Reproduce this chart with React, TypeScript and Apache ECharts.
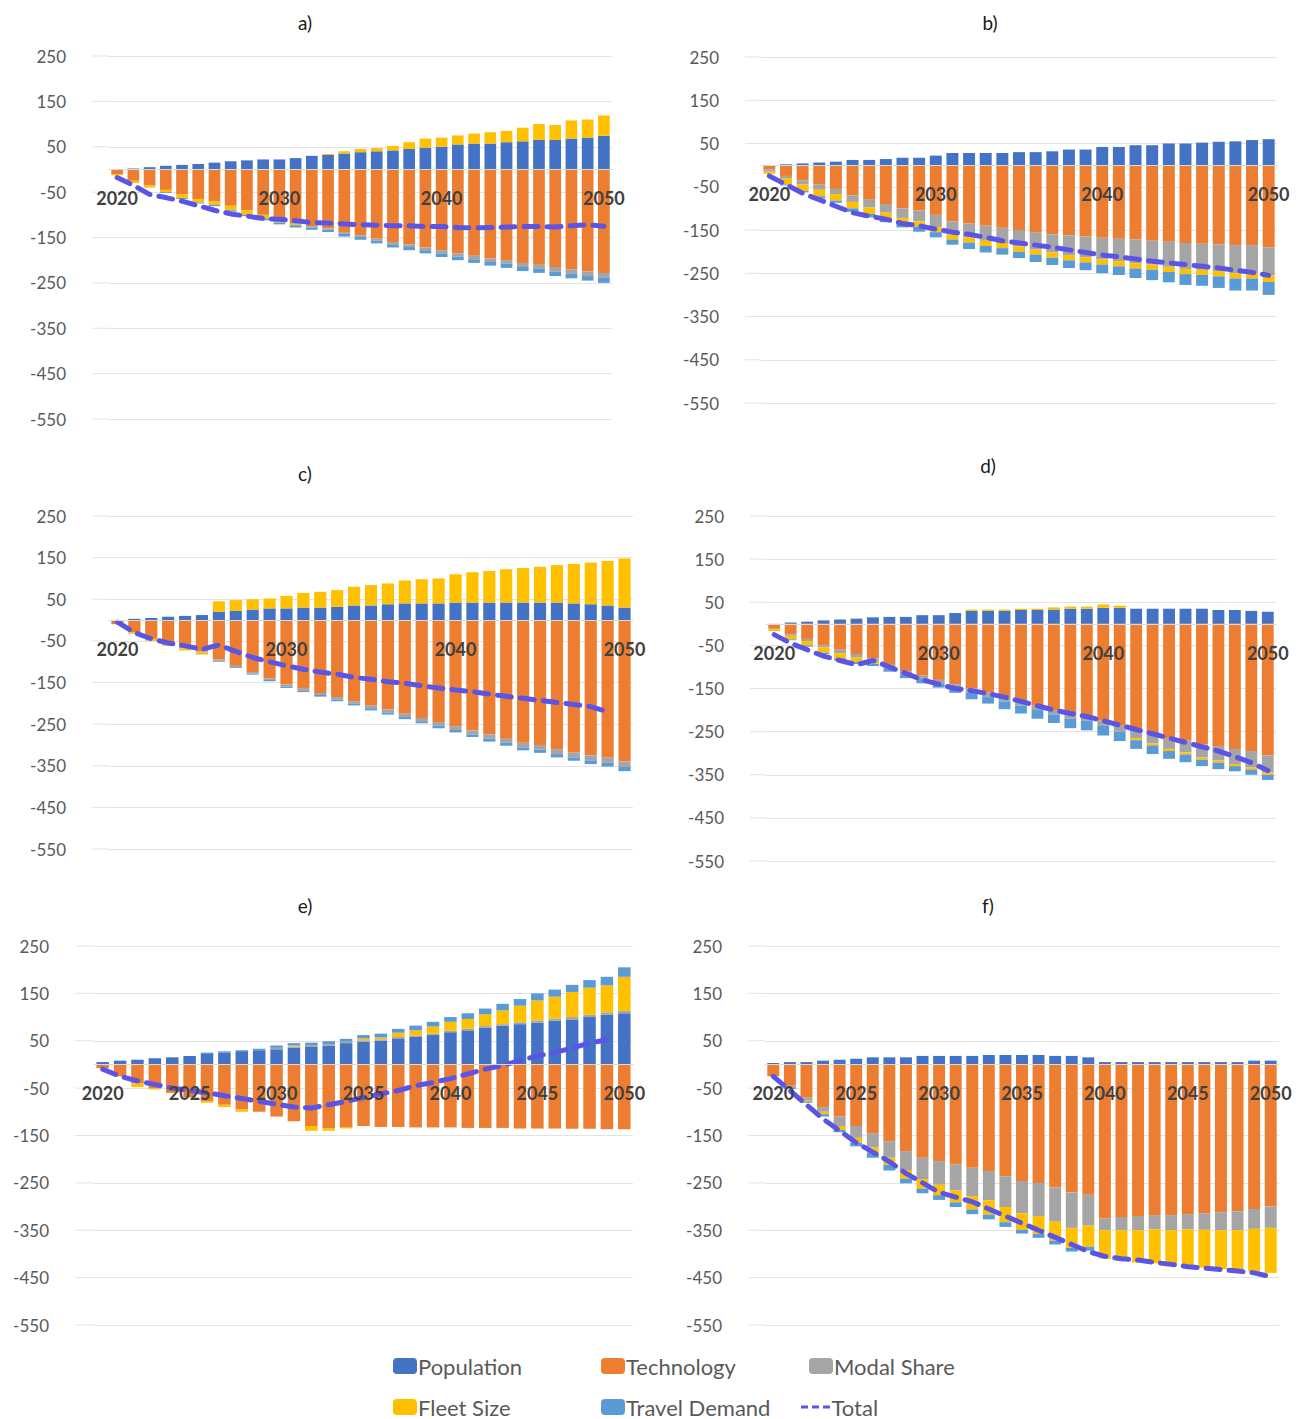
import React, { useEffect, useRef } from "react";
import * as echarts from "echarts";

const years = Array.from({ length: 31 }, (_, i) => String(2020 + i));
const yTicks = [-550, 250, 100]; // min, max, interval

const popA = [0,2,5,8,10,12,15,18,20,22,22,25,30,32,35,38,40,42,45,48,50,55,57,57,60,62,65,65,68,70,74];
const techA = [-10,-25,-35,-45,-55,-65,-70,-80,-90,-100,-110,-118,-125,-130,-138,-145,-152,-160,-165,-172,-178,-185,-190,-196,-200,-206,-210,-215,-220,-225,-228];
const modalA = [0,0,0,0,0,0,0,0,0,0,-2,-2,-3,-3,-4,-4,-5,-5,-6,-6,-7,-7,-8,-8,-8,-9,-9,-10,-10,-10,-10];
const fleetA = [-3,-5,-5,-5,-8,-8,-8,-10,-10,-8,-5,-3,0,2,5,7,7,10,15,20,20,20,22,25,25,30,35,33,40,40,45];
const travelA = [0,0,0,-2,-2,-2,-3,-3,-3,-4,-4,-5,-5,-5,-6,-6,-6,-7,-7,-7,-8,-8,-8,-8,-9,-9,-9,-10,-10,-10,-12];
const totalA = [-18,-35,-55,-62,-70,-80,-90,-98,-103,-108,-110,-113,-117,-118,-120,-122,-123,-124,-124,-126,-126,-128,-129,-128,-127,-126,-126,-127,-124,-122,-125];

const popB = [0,2,4,6,8,12,12,14,17,17,22,28,28,28,28,30,30,32,36,36,42,42,46,46,50,50,52,54,55,58,60];
const techB = [-10,-25,-35,-45,-55,-70,-80,-90,-100,-105,-115,-130,-135,-140,-145,-150,-155,-160,-163,-165,-168,-170,-172,-175,-177,-180,-182,-183,-185,-185,-190];
const modalB = [-5,-5,-10,-12,-12,-15,-18,-20,-22,-25,-28,-30,-32,-35,-35,-38,-40,-42,-45,-48,-50,-52,-55,-55,-58,-60,-60,-62,-65,-65,-65];
const fleetB = [-5,-15,-15,-15,-15,-15,-15,-12,-12,-12,-12,-12,-12,-12,-12,-12,-12,-12,-12,-12,-12,-12,-12,-12,-12,-12,-12,-12,-12,-12,-15];
const travelB = [0,-2,-3,-5,-5,-8,-8,-10,-10,-12,-12,-12,-15,-15,-15,-15,-17,-17,-18,-18,-20,-20,-22,-24,-24,-25,-25,-27,-28,-28,-30];
const totalB = [-25,-45,-65,-80,-95,-110,-118,-125,-135,-140,-148,-155,-160,-167,-175,-180,-185,-190,-196,-202,-208,-212,-217,-222,-226,-230,-234,-238,-243,-248,-255];

const popC = [0,3,5,8,10,12,20,22,25,28,28,30,30,32,35,35,38,40,40,40,42,42,42,42,42,42,42,40,38,35,30];
const techC = [-10,-30,-45,-55,-65,-75,-95,-110,-125,-140,-155,-165,-175,-185,-195,-205,-215,-225,-235,-245,-255,-265,-275,-285,-295,-300,-310,-318,-325,-330,-340];
const modalC = [0,0,0,-2,-3,-3,-3,-3,-4,-4,-5,-5,-5,-6,-6,-7,-7,-8,-8,-9,-9,-10,-10,-10,-11,-11,-12,-12,-12,-13,-13];
const fleetC = [0,-3,-5,-5,-5,-5,25,26,25,24,30,35,38,40,45,49,50,55,58,60,68,73,76,80,83,86,90,95,100,107,118];
const travelC = [0,0,0,0,0,0,-2,-2,-2,-3,-3,-3,-4,-4,-4,-5,-5,-5,-5,-6,-6,-6,-7,-7,-7,-8,-8,-8,-9,-9,-10];
const totalC = [-5,-30,-45,-55,-62,-70,-60,-75,-90,-100,-110,-118,-125,-130,-138,-142,-148,-152,-158,-163,-168,-172,-178,-183,-188,-193,-198,-203,-208,-220,null];

const popD = [0,3,5,8,10,12,15,16,16,20,20,25,30,30,30,32,32,33,35,35,37,37,35,35,35,35,35,32,32,30,28];
const techD = [-10,-25,-35,-50,-60,-70,-80,-95,-110,-120,-130,-140,-150,-160,-170,-180,-190,-200,-210,-215,-225,-235,-245,-255,-265,-270,-280,-285,-290,-295,-305];
const modalD = [-2,-3,-5,-5,-8,-8,-8,-8,-8,-8,-8,-8,-10,-10,-10,-10,-10,-10,-10,-10,-12,-15,-20,-22,-25,-28,-30,-32,-35,-38,-40];
const fleetD = [-5,-8,-10,-12,-12,-10,-5,0,0,0,0,0,3,3,3,3,3,5,5,5,8,5,-5,-5,-5,-5,-5,-5,-5,-5,-5];
const travelD = [0,-2,-3,-3,-5,-5,-5,-8,-8,-10,-10,-12,-15,-15,-18,-18,-20,-20,-22,-22,-22,-22,-20,-20,-18,-18,-15,-15,-12,-12,-12];
const totalD = [-25,-45,-60,-75,-85,-95,-85,-100,-115,-130,-140,-150,-155,-162,-170,-180,-190,-200,-208,-215,-225,-235,-245,-255,-265,-275,-285,-295,-308,-322,-340];

const popE = [5,8,10,13,15,18,22,25,28,30,32,35,38,40,45,48,50,55,58,62,68,72,78,82,85,88,92,95,100,105,108];
const techE = [-8,-25,-40,-50,-60,-70,-78,-85,-95,-100,-110,-120,-130,-135,-132,-130,-132,-132,-133,-133,-133,-134,-134,-134,-135,-135,-135,-136,-136,-137,-137];
const modalE = [0,0,0,0,0,0,0,0,0,0,3,3,3,3,3,3,3,3,3,3,3,3,3,3,4,5,5,5,5,5,5];
const fleetE = [0,0,-8,-3,0,0,-3,-5,-5,0,0,2,-10,-5,-3,4,4,9,11,15,19,21,25,29,35,42,46,53,57,57,72];
const travelE = [0,0,0,0,0,0,3,3,2,3,5,5,5,6,6,7,8,8,10,10,10,12,12,14,14,15,15,15,16,18,20];
const totalE = [-10,-25,-35,-42,-50,-55,-60,-66,-72,-78,-84,-90,-92,-85,-78,-70,-62,-55,-45,-38,-30,-20,-10,-2,8,18,25,35,45,52,null];

const popF = [3,5,5,8,10,12,15,15,15,18,18,18,18,20,20,20,20,18,18,15,5,5,5,5,5,5,5,5,5,8,8];
const techF = [-25,-45,-70,-90,-110,-130,-145,-162,-183,-197,-204,-211,-218,-225,-236,-246,-250,-260,-270,-275,-325,-322,-320,-318,-318,-316,-314,-312,-310,-305,-300];
const modalF = [0,-5,-5,-10,-20,-25,-30,-35,-40,-45,-50,-55,-60,-62,-65,-68,-70,-72,-75,-65,-25,-28,-30,-30,-32,-32,-35,-38,-40,-42,-45];
const fleetF = [0,0,-3,-5,-8,-10,-12,-15,-18,-20,-22,-25,-28,-30,-32,-35,-38,-40,-42,-45,-60,-65,-68,-72,-75,-78,-80,-82,-85,-90,-95];
const travelF = [0,-2,-3,-5,-5,-8,-10,-12,-10,-10,-10,-10,-10,-10,-10,-8,-8,-8,-8,-8,0,0,0,0,0,0,0,0,0,0,0];
const totalF = [-25,-55,-85,-115,-140,-165,-185,-205,-230,-250,-270,-280,-290,-305,-320,-335,-350,-365,-380,-395,-405,-410,-413,-418,-422,-427,-430,-433,-436,-440,-448];

const seriesNames = ["Population", "Technology", "Modal Share", "Fleet Size", "Travel Demand", "Total"];
const colors = ["#4472C4", "#ED7D31", "#A5A5A5", "#FFC000", "#5B9BD5", "#5B55E6"];

const panels = [
  { title: "a)", data: [popA, techA, modalA, fleetA, travelA, totalA], grid: { left: 109, top: 56, width: 503, height: 363 }, lineLeft: 92, every: 9, tx: 305, ty: 22 },
  { title: "b)", data: [popB, techB, modalB, fleetB, travelB, totalB], grid: { left: 761, top: 57, width: 516, height: 346 }, lineLeft: 745, every: 9, tx: 990, ty: 22 },
  { title: "c)", data: [popC, techC, modalC, fleetC, travelC, totalC], grid: { left: 109, top: 516, width: 524, height: 333 }, lineLeft: 92, every: 9, tx: 305, ty: 473 },
  { title: "d)", data: [popD, techD, modalD, fleetD, travelD, totalD], grid: { left: 766, top: 516, width: 510, height: 345 }, lineLeft: 750, every: 9, tx: 988, ty: 465 },
  { title: "e)", data: [popE, techE, modalE, fleetE, travelE, totalE], grid: { left: 94, top: 946, width: 539, height: 379 }, lineLeft: 75, every: 4, tx: 305, ty: 905 },
  { title: "f)", data: [popF, techF, modalF, fleetF, travelF, totalF], grid: { left: 765, top: 946, width: 514, height: 379 }, lineLeft: 748, every: 4, tx: 988, ty: 905 },
];

const FONT = "Lato";

export default function App() {
  const ref = useRef<HTMLDivElement>(null);
  useEffect(() => {
    const chart = echarts.init(ref.current!, undefined, { renderer: "svg" });
    const grids: any[] = [];
    const xAxes: any[] = [];
    const yAxes: any[] = [];
    const series: any[] = [];
    const graphics: any[] = [];
    panels.forEach((p, i) => {
      grids.push({ ...p.grid });
      const zeroFromBottom = (0 - yTicks[0]) / (yTicks[1] - yTicks[0]) * p.grid.height;
      xAxes.push({
        type: "category", gridIndex: i, data: years, position: "bottom", offset: -zeroFromBottom, z: 10,
        axisLine: { onZero: false, lineStyle: { color: "#d9d9d9" } },
        axisTick: { show: false },
        axisLabel: { interval: p.every, margin: 20, fontFamily: FONT, fontWeight: "bold", fontSize: 18, color: "#404040" },
      });
      yAxes.push({
        type: "value", gridIndex: i, min: yTicks[0], max: yTicks[1], interval: yTicks[2],
        splitLine: { lineStyle: { color: "#e3e3e3" } },
        axisLabel: { margin: p.grid.left - p.lineLeft + 26, fontFamily: FONT, fontSize: 17, color: "#595959" },
      });
      [-550, -450, -350, -250, -150, -50, 50, 150, 250].forEach((v) => {
        const y = p.grid.top + ((yTicks[1] - v) / (yTicks[1] - yTicks[0])) * p.grid.height;
        graphics.push({ type: "line", shape: { x1: p.lineLeft, y1: y, x2: p.grid.left, y2: y }, style: { stroke: "#e3e3e3", lineWidth: 1 } });
      });
      graphics.push({ type: "text", x: p.tx, y: p.ty, style: { text: p.title, fontFamily: FONT, fontSize: 19, fill: "#1a1a1a", align: "center", verticalAlign: "middle" } });
      for (let s = 0; s < 5; s++) {
        series.push({
          name: seriesNames[s], type: "bar", stack: "s" + i, xAxisIndex: i, yAxisIndex: i,
          data: p.data[s], barCategoryGap: "28%", itemStyle: { color: colors[s] },
        });
      }
      series.push({
        name: "Total", type: "line", xAxisIndex: i, yAxisIndex: i, data: p.data[5],
        symbol: "none", z: 5, lineStyle: { color: colors[5], width: 5, type: [14, 9], cap: "round" }, itemStyle: { color: colors[5] },
      });
    });
    const legendPos = [
      [388, 1350], [596, 1350], [804, 1350],
      [388, 1391], [596, 1391], [796, 1391],
    ];
    const legends = seriesNames.map((n, k) => ({
      data: [k === 5 ? { name: n, icon: "path://M0,0h7v3h-7z M11,0h7v3h-7z M22,0h7v3h-7z" } : n],
      left: legendPos[k][0], top: legendPos[k][1],
      itemWidth: k === 5 ? 30 : 24, itemHeight: k === 5 ? 3 : 16,
      itemGap: 2, selectedMode: false,
      textStyle: { fontFamily: FONT, fontSize: 22, color: "#595959", padding: [0, 0, 0, -4] },
    }));
    chart.setOption({
      animation: false,
      color: colors,
      grid: grids, xAxis: xAxes, yAxis: yAxes, series, legend: legends, graphic: graphics,
    });
    return () => chart.dispose();
  }, []);
  return <div ref={ref} style={{ position: "absolute", left: 0, top: 0, width: 1309, height: 1419, background: "#fff" }} />;
}
